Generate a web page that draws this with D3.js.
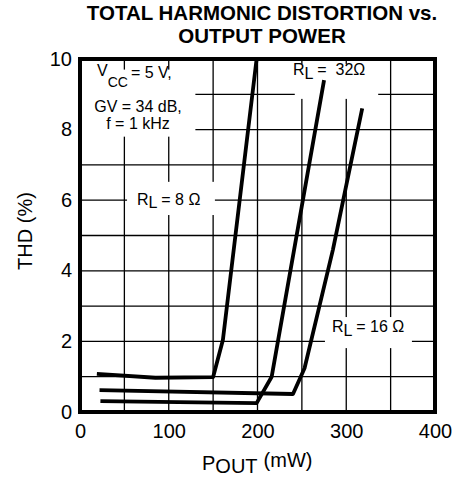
<!DOCTYPE html>
<html>
<head>
<meta charset="utf-8">
<script src="https://cdn.jsdelivr.net/npm/d3@7"></script>
<style>
  body { margin: 0; background: #fff; }
  svg { display: block; font-family: "Liberation Sans", Arial, sans-serif; }
  .grid line { stroke: #000; stroke-width: 1.3; }
  .curve { fill: none; stroke: #000; stroke-width: 3.8; stroke-linejoin: round; }
  .note { font-size: 16px; white-space: pre; }
</style>
</head>
<body>
<div id="chart"></div>
<script>
// values: [P_OUT mW, THD %]
const rl8 = [[19, 1.08], [85, 0.97], [150, 0.99], [161, 2.04], [199, 10]];
const rl32 = [[23, 0.31], [199, 0.25], [216, 1.0], [275, 9.4]];
const rl16 = [[22, 0.62], [240, 0.51], [253, 1.24], [285, 4.6], [318, 8.6]];
const xTicks = [0, 100, 200, 300, 400];
const yTicks = [0, 2, 4, 6, 8, 10];
const xGrid = [50, 100, 150, 200, 250, 300, 350];
const yGrid = [1, 2, 3, 4, 5, 6, 7, 8, 9];

const width = 461, height = 479;
const plot = {left: 80, right: 435, top: 59, bottom: 412};

const x = d3.scaleLinear().domain([0, 400]).range([plot.left, plot.right]);
const y = d3.scaleLinear().domain([0, 10]).range([plot.bottom, plot.top]);

const svg = d3.select("#chart").append("svg")
    .attr("width", width).attr("height", height);

// title
const title = svg.append("text")
    .attr("text-anchor", "middle")
    .style("font-size", "20.5px").style("font-weight", "bold");
title.append("tspan").attr("x", 262).attr("y", 20).text("TOTAL HARMONIC DISTORTION vs.");
title.append("tspan").attr("x", 262).attr("y", 43).text("OUTPUT POWER");

// grid
const grid = svg.append("g").attr("class", "grid");
grid.selectAll("line.v").data(xGrid).join("line").attr("class", "v")
    .attr("x1", d => x(d)).attr("x2", d => x(d))
    .attr("y1", y(0)).attr("y2", y(10));
grid.selectAll("line.h").data(yGrid).join("line").attr("class", "h")
    .attr("x1", x(0)).attr("x2", x(400))
    .attr("y1", d => y(d)).attr("y2", d => y(d));

// white patches behind the notes (data units)
const patches = [
    {x0: 2, x1: 130, y0: 7.8, y1: 9.7},
    {x0: 53, x1: 152, y0: 5.58, y1: 6.52},
    {x0: 242, x1: 336, y0: 8.87, y1: 9.86},
    {x0: 276, x1: 374, y0: 1.81, y1: 2.69},
];
svg.append("g").selectAll("rect").data(patches).join("rect")
    .attr("x", d => x(d.x0)).attr("y", d => y(d.y1))
    .attr("width", d => x(d.x1) - x(d.x0)).attr("height", d => y(d.y0) - y(d.y1))
    .attr("fill", "#fff");

// frame
svg.append("rect")
    .attr("x", x(0)).attr("y", y(10))
    .attr("width", x(400) - x(0)).attr("height", y(0) - y(10))
    .attr("fill", "none").attr("stroke", "#000").attr("stroke-width", 4);

// curves
svg.append("clipPath").attr("id", "clip").append("rect")
    .attr("x", x(0)).attr("y", y(10))
    .attr("width", x(400) - x(0)).attr("height", y(0) - y(10));
const line = d3.line().x(d => x(d[0])).y(d => y(d[1]));
svg.append("g").attr("clip-path", "url(#clip)")
    .selectAll("path").data([rl8, rl32, rl16]).join("path")
    .attr("class", "curve").attr("d", line);

// axes (labels only, no tick marks)
const xAxis = svg.append("g").attr("transform", `translate(0,${plot.bottom})`)
    .call(d3.axisBottom(x).tickValues(xTicks).tickSize(0).tickPadding(12));
xAxis.select(".domain").remove();
xAxis.selectAll("text").style("font-size", "20px").attr("font-family", null);

const yAxis = svg.append("g").attr("transform", `translate(${plot.left},0)`)
    .call(d3.axisLeft(y).tickValues(yTicks).tickSize(0).tickPadding(8));
yAxis.select(".domain").remove();
yAxis.selectAll("text").style("font-size", "20px").attr("font-family", null).attr("dy", "0.3em");

// axis titles
const xt = svg.append("text").attr("x", 202).attr("y", 470).style("font-size", "20px");
xt.append("tspan").text("P");
xt.append("tspan").attr("dy", 3).text("OUT");
xt.append("tspan").attr("dy", -6).attr("dx", 6).text("(mW)");

svg.append("text")
    .attr("transform", "translate(32,231) rotate(-90)")
    .attr("text-anchor", "middle")
    .style("font-size", "20px")
    .text("THD (%)");

// notes
const vcc = svg.append("text").attr("class", "note").attr("x", 97).attr("y", 76);
vcc.append("tspan").text("V");
vcc.append("tspan").attr("dy", 11).style("font-size", "14px").text("CC");
vcc.append("tspan").attr("dy", -9).attr("dx", 3).text("= 5 V,");
svg.append("text").attr("class", "note").attr("x", 138).attr("y", 112)
    .attr("text-anchor", "middle").text("GV = 34 dB,");
svg.append("text").attr("class", "note").attr("x", 138).attr("y", 129)
    .attr("text-anchor", "middle").text("f = 1 kHz");

function rlLabel(px, py, drop, rest) {
    const t = svg.append("text").attr("class", "note").attr("x", px).attr("y", py);
    t.append("tspan").text("R");
    t.append("tspan").attr("dy", drop).text("L");
    t.append("tspan").attr("dy", -drop).text(rest);
}
rlLabel(137, 205, 3, " = 8 \u03A9");
rlLabel(293, 75, 4, " =  32\u03A9");
rlLabel(332, 332, 4, " = 16 \u03A9");
</script>
</body>
</html>
